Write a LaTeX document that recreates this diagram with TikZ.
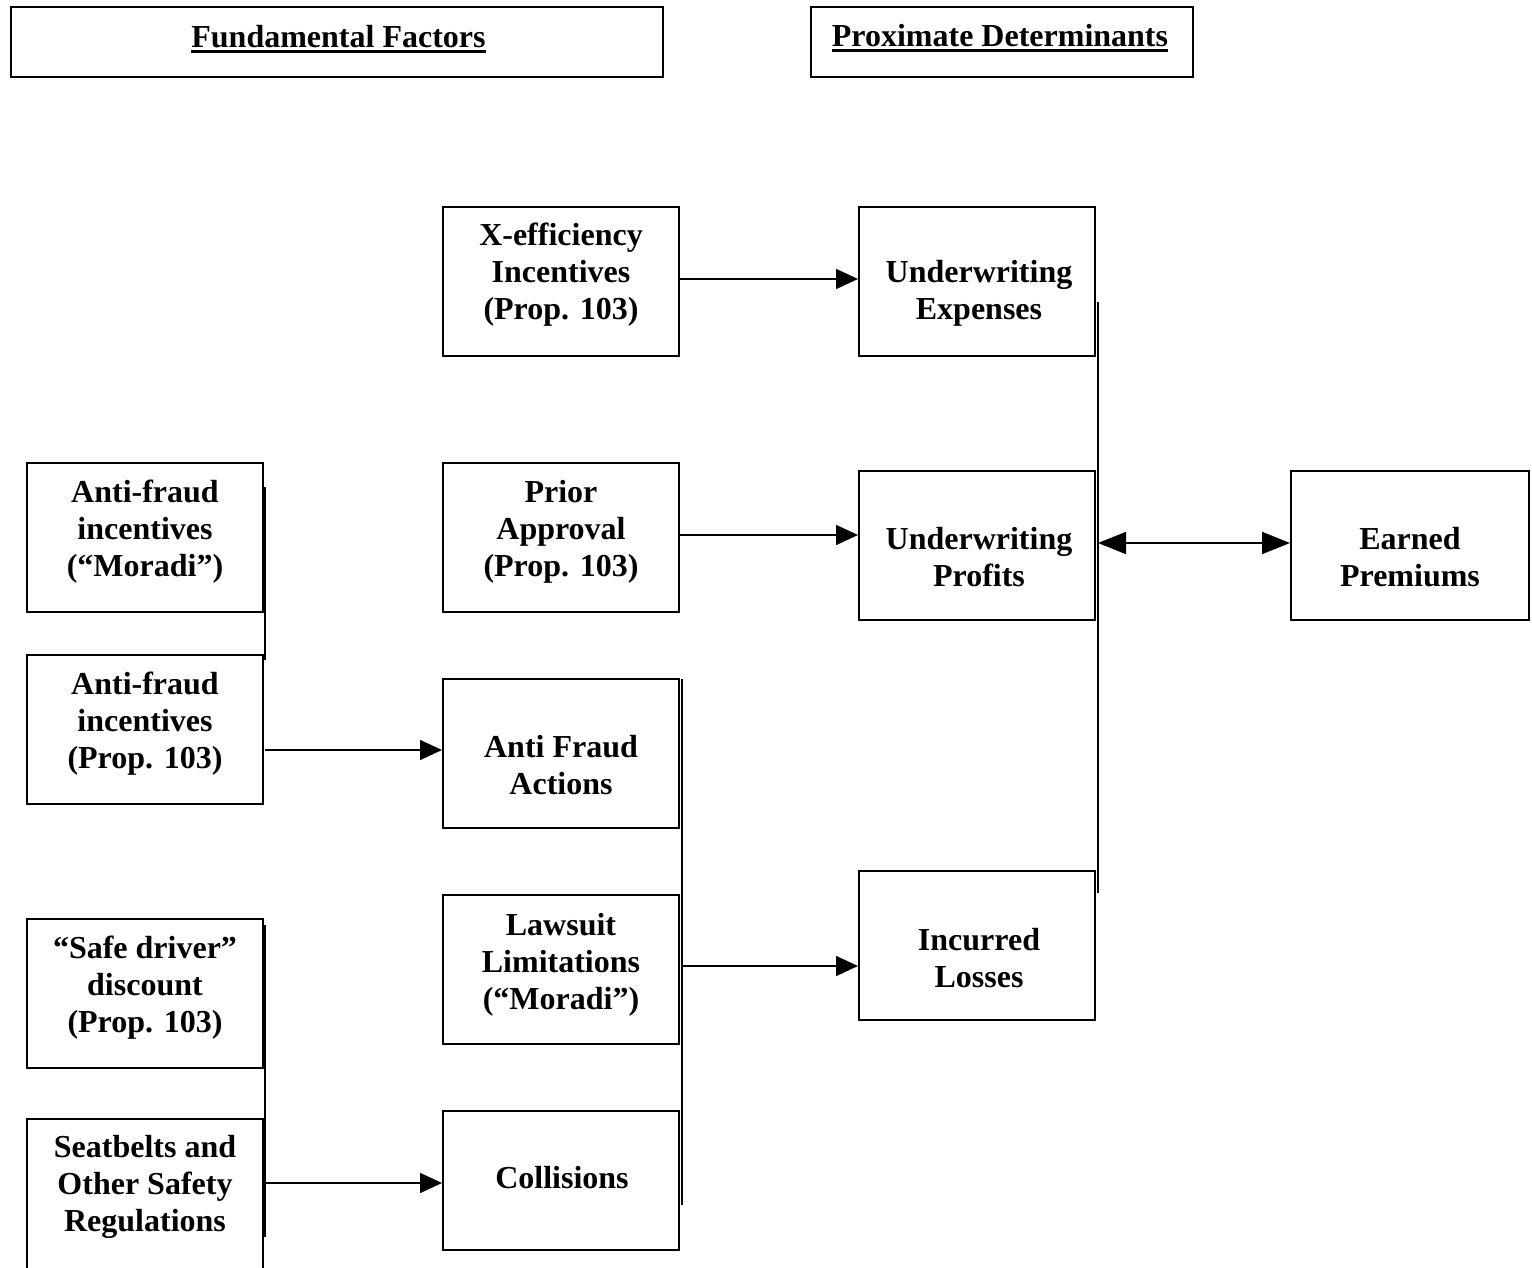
\documentclass[tikz,border=0pt]{standalone}
\usepackage{fontspec}
\setmainfont{Liberation Serif}
\usetikzlibrary{arrows.meta}
\newcommand\hdrul[1]{\setbox0\hbox{#1}\rlap{\rule[-6pt]{\wd0}{3pt}}\box0}
\begin{document}
\begin{tikzpicture}[x=1pt,y=-1pt,
  box/.style={draw, line width=2pt, inner sep=0pt, minimum width=236pt, minimum height=149pt},
  txt/.style={align=center, inner sep=0pt, font=\fontsize{32}{37}\selectfont\bfseries},
  arr/.style={line width=1.6pt, -{Triangle[length=22pt,width=20pt]}},
  darr/.style={line width=1.6pt, {Triangle[length=28pt,width=22pt]}-{Triangle[length=28pt,width=22pt]}},
  brk/.style={line width=2.6pt}]
\clip (0,0) rectangle (1532,1268);
\fill[white] (0,0) rectangle (1532,1268);
% headers
\node[box, minimum width=652pt, minimum height=70pt] (h1) at (337,42) {};
\node[txt, anchor=base] (h1t) at (338.5,47.5) {\hdrul{Fundamental Factors}};
\node[box, minimum width=382pt, minimum height=70pt] (h2) at (1002,42) {};
\node[txt, anchor=base] (h2t) at (1000,46.5) {\hdrul{Proximate Determinants}};
% boxes
\node[box] (xeff) at (561,281.5) {};
\node[txt] (xefft) at (561,275) {X-efficiency\\Incentives\\(Prop. 103)};
\node[box] (uwe) at (977,281.5) {};
\node[txt] (uwet) at (979,293) {Underwriting\\Expenses};
\node[box] (prior) at (561,537.5) {};
\node[txt] (priort) at (561,532) {Prior\\Approval\\(Prop. 103)};
\node[box] (uwp) at (977,545.5) {};
\node[txt] (uwpt) at (979,557) {Underwriting\\Profits};
\node[box, minimum width=238pt] (erp) at (1410,545.5) {};
\node[txt] (erpt) at (1410,557) {Earned\\Premiums};
\node[box] (afm) at (145,537.5) {};
\node[txt] (afmt) at (145,532) {Anti-fraud\\incentives\\(``Moradi'')};
\node[box] (afp) at (145,729.5) {};
\node[txt] (afpt) at (145,724) {Anti-fraud\\incentives\\(Prop. 103)};
\node[box] (afa) at (561,753.5) {};
\node[txt] (afat) at (561,765) {Anti Fraud\\Actions};
\node[box] (law) at (561,969.5) {};
\node[txt] (lawt) at (561,965) {Lawsuit\\Limitations\\(``Moradi'')};
\node[box] (inc) at (977,945.5) {};
\node[txt] (inct) at (979,958) {Incurred\\Losses};
\node[box] (safe) at (145,993.5) {};
\node[txt] (safet) at (145,988) {``Safe driver''\\discount\\(Prop. 103)};
\node[box, minimum height=160pt] (seat) at (145,1199) {};
\node[txt] (seatt) at (145,1187) {Seatbelts and\\Other Safety\\Regulations};
\node[box, minimum height=139pt] (coll) at (561,1180.5) {};
\node[txt] (collt) at (562,1178) {Collisions};
% bracket lines
\draw[brk] ([xshift=2pt]uwe.east |- 0,302) -- ([xshift=2pt]inc.east |- 0,893) coordinate (rb);
\draw[brk] ([xshift=1pt]afm.east |- 0,487) -- ([xshift=1pt]afp.east |- 0,660);
\draw[brk] ([xshift=1pt]safe.east |- 0,925) -- ([xshift=1pt]seat.east |- 0,1237);
\draw[brk] ([xshift=2pt]afa.east |- 0,679) -- ([xshift=2pt]coll.east |- 0,1205);
% arrows
\draw[arr] (xeff.east |- 0,279) -- (uwe.west |- 0,279);
\draw[arr] (prior.east |- 0,535) -- (uwp.west |- 0,535);
\draw[arr] ([xshift=1pt]afp.east |- 0,750) -- (afa.west |- 0,750);
\draw[arr] ([xshift=1pt]seat.east |- 0,1183) -- (coll.west |- 0,1183);
\draw[arr] ([xshift=2pt]law.east |- 0,966) -- (inc.west |- 0,966);
\draw[darr] ([xshift=2pt]uwp.east |- 0,543) -- (erp.west |- 0,543);
\end{tikzpicture}
\end{document}
